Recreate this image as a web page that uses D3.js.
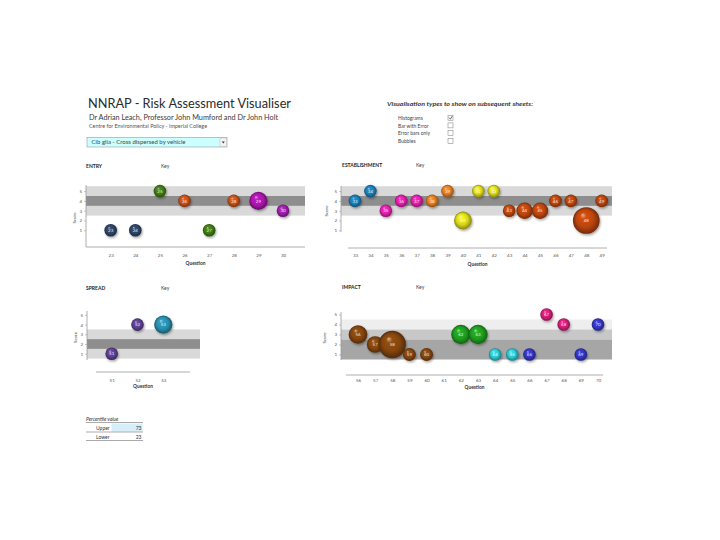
<!DOCTYPE html>
<html><head><meta charset="utf-8">
<script src="https://cdn.jsdelivr.net/npm/d3@7"></script>
<style>body{margin:0;background:#fff}svg{display:block}text{font-family:Lato,"Open Sans",sans-serif}</style>
</head><body><svg id="c" width="720" height="540"></svg>
<script>
// ---------------- DATA ----------------
const entryQuestions = [23, 24, 25, 26, 27, 28, 29, 30];
const entryScores    = [1, 1, 5, 4, 1, 4, 4, 3];
const entrySizes     = [1, 1, 1, 1, 1, 1, 2.1, 1];
const entryGroups    = ["navy", "navy", "green", "rust", "green", "rust", "magenta", "purple"];
const entryTicks     = [23, 24, 25, 26, 27, 28, 29, 30];
const entryBands     = [[2.5, 5.5], [3.5, 4.5]];

const estQuestions = [33, 34, 35, 36, 37, 38, 39, 40, 41, 42, 43, 44, 45, 46, 47, 48, 49];
const estScores    = [4, 5, 3, 4, 4, 4, 5, 2, 5, 5, 3, 3, 3, 4, 4, 2, 4];
const estSizes     = [1, 1, 1, 1, 1, 1, 1, 2, 1, 1, 1, 1.7, 1.7, 1, 1, 4.5, 1];
const estGroups    = ["blue", "blue", "pink", "pink", "pink", "orange", "orange", "yellow", "yellow", "yellow",
                      "brick", "brick", "brick", "brick", "brick", "brick", "brick"];
const estTicks     = [33, 34, 35, 36, 37, 38, 39, 40, 41, 42, 43, 44, 45, 46, 47, 48, 49];
const estBands     = [[2.5, 5.5], [3.5, 4.5]];

const spreadQuestions = [51, 52, 53];
const spreadScores    = [1, 4, 4];
const spreadSizes     = [1, 1, 2.1];
const spreadGroups    = ["violet", "violet", "teal"];
const spreadTicks     = [51, 52, 53];
const spreadBands     = [[0.5, 3.5], [1.5, 2.5]];

const impactQuestions = [56, 57, 58, 59, 60, 62, 63, 64, 65, 66, 67, 68, 69, 70];
const impactScores    = [3, 2, 2, 1, 1, 3, 3, 1, 1, 1, 5, 4, 1, 4];
const impactSizes     = [2.2, 1.75, 4.7, 1.05, 1.05, 2.35, 2.35, 1, 1, 1, 1, 1, 1, 1];
const impactGroups    = ["brown", "brown", "brown", "brown", "brown", "green2", "green2", "cyan", "cyan", "indigo",
                         "rose", "rose", "indigo", "indigo"];
const impactTicks     = [56, 57, 58, 59, 60, 61, 62, 63, 64, 65, 66, 67, 68, 69, 70];
const impactBands     = [[3.5, 4.5], [2.5, 3.5], [0.5, 2.5]];

const scoreTicks = [1, 2, 3, 4, 5];
const vizOptions = ["Histograms", "Bar with Error", "Error bars only", "Bubbles"];
const vizChecked = [true, false, false, false];
const percentileLabels = ["Upper", "Lower"];
const percentileValues = [73, 23];

// ---------------- STYLE ----------------
const palette = {
  navy: "#2c4466", green: "#3f7a12", rust: "#c4501a", magenta: "#a814a8", purple: "#9a1fa6",
  blue: "#1b7cb4", pink: "#e01fa8", orange: "#e07a22", yellow: "#d6d41a", brick: "#b9450f",
  violet: "#5c3f8e", teal: "#2a8cac",
  brown: "#83450f", green2: "#1f9a1f", cyan: "#2cc4cc", indigo: "#3434c2", rose: "#d21e78"
};

const svg = d3.select("#c");
const defs = svg.append("defs");
const shadow = defs.append("filter").attr("id", "sh").attr("x", "-50%").attr("y", "-50%").attr("width", "200%").attr("height", "200%");
shadow.append("feDropShadow").attr("dx", 1).attr("dy", 1.5).attr("stdDeviation", 1).attr("flood-color", "#000").attr("flood-opacity", 0.35);

Object.entries(palette).forEach(([k, c]) => {
  const gr = defs.append("radialGradient").attr("id", "g_" + k)
    .attr("cx", "50%").attr("cy", "50%").attr("r", "50%").attr("fx", "36%").attr("fy", "28%");
  gr.append("stop").attr("offset", "0%").attr("stop-color", d3.interpolateRgb(c, "#fff")(0.6));
  gr.append("stop").attr("offset", "22%").attr("stop-color", d3.color(c).brighter(0.4));
  gr.append("stop").attr("offset", "65%").attr("stop-color", c);
  gr.append("stop").attr("offset", "100%").attr("stop-color", d3.color(c).darker(1.3));
});

const rScale = d3.scaleSqrt().domain([0, 1]).range([0, 6.3]);
const intFmt = d3.format("d");

// ---------------- HEADER ----------------
svg.append("text").attr("x", 88).attr("y", 108).attr("font-size", 13).attr("fill", "#2a2a2a").attr("font-weight", 400)
  .attr("textLength", 203).attr("lengthAdjust", "spacingAndGlyphs").text("NNRAP - Risk Assessment Visualiser");
svg.append("text").attr("x", 89).attr("y", 120).attr("font-size", 6.8).attr("fill", "#3a3a3a")
  .attr("textLength", 189).attr("lengthAdjust", "spacingAndGlyphs").text("Dr Adrian Leach, Professor John Mumford and Dr John Holt");
svg.append("text").attr("x", 89).attr("y", 127.5).attr("font-size", 4.8).attr("fill", "#555")
  .attr("textLength", 118).attr("lengthAdjust", "spacingAndGlyphs").text("Centre for Environmental Policy - Imperial College");

// dropdown
svg.append("rect").attr("x", 87).attr("y", 137.5).attr("width", 140).attr("height", 9.5).attr("fill", "#ccffff").attr("stroke", "#9a9a9a").attr("stroke-width", 0.6);
svg.append("rect").attr("x", 220).attr("y", 138).attr("width", 6.5).attr("height", 8.5).attr("fill", "#f4f4f4").attr("stroke", "#aaa").attr("stroke-width", 0.4);
svg.append("path").attr("d", "M221.8,141.5 L224.8,141.5 L223.3,143.5 Z").attr("fill", "#333");
svg.append("text").attr("x", 91.5).attr("y", 144.3).attr("font-size", 5).attr("fill", "#444")
  .attr("textLength", 94).attr("lengthAdjust", "spacingAndGlyphs").text("Cib glia - Cross dispersed by vehicle");

// visualisation options
svg.append("text").attr("x", 387).attr("y", 106).attr("font-size", 5).attr("font-style", "italic").attr("font-weight", "bold").attr("fill", "#333")
  .attr("textLength", 146).attr("lengthAdjust", "spacingAndGlyphs").text("Visualisation types to show on subsequent sheets:");
vizOptions.forEach((o, i) => {
  const yy = 118 + i * 7.7;
  svg.append("text").attr("x", 398).attr("y", yy + 1.8).attr("font-size", 5).attr("fill", "#444").text(o);
  svg.append("rect").attr("x", 448).attr("y", yy - 2.8).attr("width", 5).attr("height", 5).attr("fill", "#fff").attr("stroke", "#777").attr("stroke-width", 0.5);
  if (vizChecked[i]) svg.append("path").attr("d", `M449,${yy - 0.5} L450.4,${yy + 1.2} L452.3,${yy - 2}`).attr("fill", "none").attr("stroke", "#333").attr("stroke-width", 0.7);
});

// percentile table
svg.append("text").attr("x", 86).attr("y", 421).attr("font-size", 5).attr("font-style", "italic").attr("fill", "#333").text("Percentile value");
svg.append("line").attr("x1", 86).attr("x2", 143).attr("y1", 422.5).attr("y2", 422.5).attr("stroke", "#555").attr("stroke-width", 0.5);
percentileLabels.forEach((l, i) => {
  const yy = 428.5 + i * 8.5;
  if (i === 0) svg.append("rect").attr("x", 111.5).attr("y", 423.5).attr("width", 31).attr("height", 8).attr("fill", "#d6eef8");
  svg.append("text").attr("x", 96).attr("y", yy + 1.5).attr("font-size", 5).attr("fill", "#333").text(l);
  svg.append("text").attr("x", 141.5).attr("y", yy + 1.5).attr("font-size", 5).attr("text-anchor", "end").attr("fill", "#333").text(percentileValues[i]);
  svg.append("line").attr("x1", 86).attr("x2", 143).attr("y1", yy + 3.5).attr("y2", yy + 3.5).attr("stroke", "#555").attr("stroke-width", 0.5);
});

// ---------------- CHARTS ----------------
function drawChart(c, d) {
  const g = svg.append("g");
  const x = d3.scaleLinear().domain([d.ticks[0], d.ticks[d.ticks.length - 1]]).range(c.xr);
  const y = d3.scaleLinear().domain([4, 1]).range(c.yr);

  g.append("text").attr("x", c.title[0]).attr("y", c.title[1]).attr("font-size", 5).attr("font-weight", "bold").attr("fill", "#222").text(c.name);
  g.append("text").attr("x", c.title[0] + c.keyDx).attr("y", c.title[1]).attr("font-size", 5).attr("fill", "#444").text("Key");

  d.bands.forEach((b, i) => {
    g.append("rect").attr("x", c.bx[0]).attr("width", c.bx[1] - c.bx[0])
      .attr("y", y(b[1])).attr("height", y(b[0]) - y(b[1])).attr("fill", c.bandColors[i]);
  });

  // y axis
  const ya = g.append("g").attr("transform", `translate(${c.bx[0]},0)`)
    .call(d3.axisLeft(y).tickValues(scoreTicks).tickFormat(intFmt).tickSize(2).tickPadding(2));
  ya.select(".domain").remove();
  ya.selectAll("line").attr("stroke", "#888").attr("stroke-width", 0.5);
  ya.selectAll("text").attr("font-size", 4.5).attr("fill", "#555").attr("font-family", "Lato");
  g.append("line").attr("x1", c.bx[0]).attr("x2", c.bx[0]).attr("y1", c.yl[0]).attr("y2", c.yl[1]).attr("stroke", "#9a9a9a").attr("stroke-width", 0.8);
  g.append("text").attr("transform", `translate(${c.scoreX},${(c.yl[0] + c.yl[1]) / 2 + 2}) rotate(-90)`)
    .attr("font-size", 4.5).attr("text-anchor", "middle").attr("fill", "#444").text("Score");

  // x axis
  const xa = g.append("g").attr("transform", `translate(0,${c.xAxisY})`)
    .call(d3.axisBottom(x).tickValues(d.ticks).tickFormat(intFmt).tickSize(0).tickPadding(c.tickPad));
  xa.select(".domain").remove();
  xa.selectAll("text").attr("font-size", 4.5).attr("fill", "#555").attr("font-family", "Lato");
  g.append("line").attr("x1", c.xl[0]).attr("x2", c.xl[1]).attr("y1", c.xAxisY).attr("y2", c.xAxisY).attr("stroke", "#9a9a9a").attr("stroke-width", 0.8);
  g.append("text").attr("x", (c.xl[0] + c.xl[1]) / 2).attr("y", c.qY).attr("font-size", 4.8).attr("font-weight", "bold")
    .attr("text-anchor", "middle").attr("fill", "#333").text("Question");

  // bubbles
  const pts = d.q.map((q, i) => ({ q, s: d.s[i], z: d.z[i], k: d.k[i] }));
  const bg = g.selectAll(".b").data(pts).join("g").attr("class", "b")
    .attr("transform", p => `translate(${x(p.q)},${y(p.s)})`);
  bg.append("circle").attr("r", p => rScale(p.z)).attr("fill", p => `url(#g_${p.k})`).attr("filter", "url(#sh)");
  bg.append("text").attr("y", 1.6).attr("text-anchor", "middle").attr("font-size", 4.5)
    .attr("fill", "#fff").attr("fill-opacity", 0.9).text(p => p.q);
}

const bandStd = ["#d9d9d9", "#8e8e8e"];

drawChart({ name: "ENTRY", title: [86, 168], keyDx: 75, xr: [110.7, 283], yr: [200.9, 230.3], bx: [86, 305],
            bandColors: bandStd, yl: [185, 247], scoreX: 76, xAxisY: 247, xl: [86, 305], tickPad: 7, qY: 265 },
          { q: entryQuestions, s: entryScores, z: entrySizes, k: entryGroups, ticks: entryTicks, bands: entryBands });

drawChart({ name: "ESTABLISHMENT", title: [342, 167], keyDx: 74, xr: [355, 601.7], yr: [200.9, 230.3], bx: [341, 612],
            bandColors: bandStd, yl: [186, 232], scoreX: 328, xAxisY: 248, xl: [348, 607], tickPad: 6, qY: 265.5 },
          { q: estQuestions, s: estScores, z: estSizes, k: estGroups, ticks: estTicks, bands: estBands });

drawChart({ name: "SPREAD", title: [86, 290], keyDx: 75, xr: [111.7, 163.3], yr: [324.6, 353.7], bx: [87, 200],
            bandColors: bandStd, yl: [311, 360], scoreX: 77, xAxisY: 372, xl: [96, 190], tickPad: 7, qY: 388 },
          { q: spreadQuestions, s: spreadScores, z: spreadSizes, k: spreadGroups, ticks: spreadTicks, bands: spreadBands });

drawChart({ name: "IMPACT", title: [342, 289], keyDx: 74, xr: [358, 598], yr: [324.5, 354.5], bx: [341, 612],
            bandColors: ["#eeeeee", "#c8c8c8", "#a6a6a6"], yl: [312, 360], scoreX: 326, xAxisY: 375, xl: [346, 603], tickPad: 4, qY: 389 },
          { q: impactQuestions, s: impactScores, z: impactSizes, k: impactGroups, ticks: impactTicks, bands: impactBands });
</script></body></html>
